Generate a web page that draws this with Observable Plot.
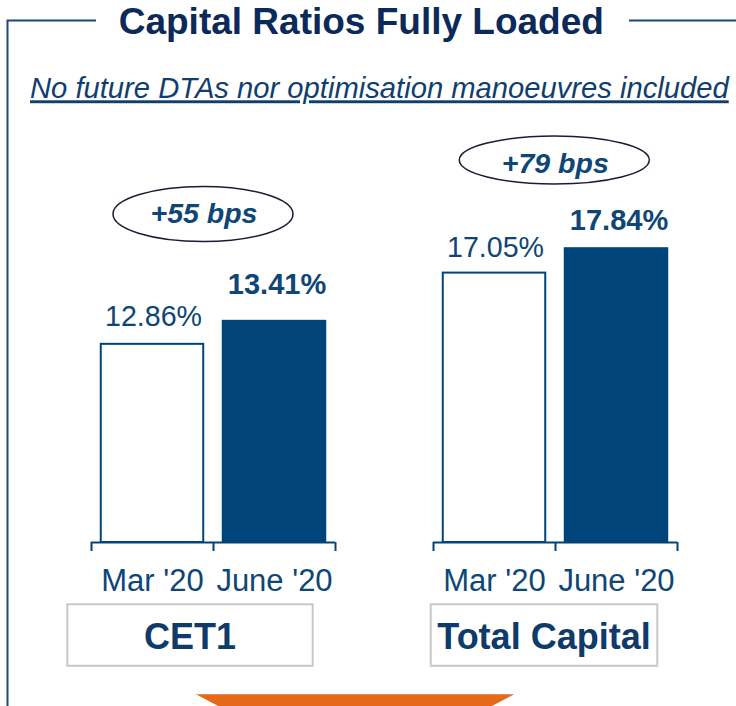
<!DOCTYPE html>
<html><head><meta charset="utf-8">
<script src="https://cdn.jsdelivr.net/npm/d3@7"></script>
<script src="https://cdn.jsdelivr.net/npm/@observablehq/plot@0.6"></script>
<style>
html,body{margin:0;padding:0;background:#fff;}
#page{position:relative;width:736px;height:706px;overflow:hidden;font-family:"Liberation Sans",Arial,sans-serif;}
#page > svg{position:absolute;}
</style></head><body><div id="page"></div>
<script>
// ---- data ----
const categories = ["Mar '20", "June '20"];
const cet1Values = [12.86, 13.41];
const totalCapitalValues = [17.05, 17.84];
const panelNames = ["CET1", "Total Capital"];
const titleText = "Capital Ratios Fully Loaded";
const subtitleText = "No future DTAs nor optimisation manoeuvres included";

// ---- style ----
const NAVY = "#00447a";
const LABEL = "#0d4677";
const TITLE = "#0b2a5a";
const FONT = "Liberation Sans, Arial, sans-serif";
const page = document.getElementById("page");

function panel(values, cfg) {
  const data = categories.map((c, i) => ({cat: c, i, v: values[i]}));
  const y0 = cfg.domain[0];
  const svg = Plot.plot({
    width: 300, height: 520,
    marginLeft: 32, marginRight: 24, marginTop: 100, marginBottom: 78,
    x: {domain: [0, categories.length], axis: null},
    y: {domain: cfg.domain, axis: null},
    style: {background: "none", overflow: "visible", fontFamily: FONT},
    marks: [
      Plot.rectY(data, {filter: d => d.i === 0, x1: d => d.i + 0.08, x2: d => d.i + 0.92, y1: y0, y2: "v", fill: "white", stroke: NAVY, strokeWidth: 2}),
      Plot.rectY(data, {filter: d => d.i === 1, x1: d => d.i + 0.08, x2: d => d.i + 0.92, y1: y0, y2: "v", fill: NAVY, stroke: NAVY, strokeWidth: 2}),
      Plot.ruleY([y0], {stroke: NAVY, strokeWidth: 2}),
      Plot.ruleX(d3.range(categories.length + 1), {y1: y0, y2: y0, insetBottom: -9, stroke: NAVY, strokeWidth: 2}),
      Plot.text(data, {filter: d => d.i === 0, x: d => d.i + 0.5, y: "v", text: d => d.v.toFixed(2) + "%", lineAnchor: "bottom", dy: -cfg.dy[0], dx: 1, fontSize: 28.6, fill: LABEL}),
      Plot.text(data, {filter: d => d.i === 1, x: d => d.i + 0.5, y: "v", text: d => d.v.toFixed(2) + "%", lineAnchor: "bottom", dy: -cfg.dy[1], dx: 2.5, fontSize: 29, fontWeight: "bold", fill: LABEL}),
      Plot.text(data, {x: d => d.i + 0.5, y: y0, text: "cat", lineAnchor: "bottom", dy: 48, fontSize: 31, fill: LABEL})
    ]
  });
  svg.style.left = cfg.left + "px";
  svg.style.top = "100px";
  page.appendChild(svg);
}

panel(cet1Values, {left: 59, domain: [8.12, 16.30], dy: [18, 27]});
panel(totalCapitalValues, {left: 400.5, domain: [8.33, 19.40], dy: [16, 19]});

// ---- decoration ----
const deco = d3.select(page).append("svg")
  .attr("width", 736).attr("height", 706)
  .style("left", "0px").style("top", "0px")
  .style("font-family", FONT);

// frame lines
deco.append("path").attr("d", "M7.5,720 V20.5 H96").attr("fill", "none").attr("stroke", "#1f4775").attr("stroke-width", 2);
deco.append("path").attr("d", "M629,20.5 H740").attr("fill", "none").attr("stroke", "#1f4775").attr("stroke-width", 2);

deco.append("text").attr("x", 361.3).attr("y", 34.3).attr("text-anchor", "middle")
  .attr("font-size", 37).attr("font-weight", "bold").attr("fill", TITLE).text(titleText);

deco.append("text").attr("x", 30).attr("y", 98.3)
  .attr("font-size", 29.2).attr("font-style", "italic").attr("fill", "#103e6d")
  .style("text-decoration", "underline").text(subtitleText);

// bps ellipses
const bps = [cet1Values, totalCapitalValues].map(v => Math.round((v[1] - v[0]) * 100));
const ell = [{cx: 203, cy: 214, rx: 90, ry: 27.5, ty: 223}, {cx: 554.3, cy: 160, rx: 95, ry: 24, ty: 172.7}];
ell.forEach((e, k) => {
  deco.append("ellipse").attr("cx", e.cx).attr("cy", e.cy).attr("rx", e.rx).attr("ry", e.ry)
    .attr("fill", "white").attr("stroke", "#1a1d33").attr("stroke-width", 1.5);
  deco.append("text").attr("x", e.cx + 1).attr("y", e.ty).attr("text-anchor", "middle")
    .attr("font-size", 28.5).attr("font-weight", "bold").attr("font-style", "italic")
    .attr("fill", "#0d4677").text("+" + bps[k] + " bps");
});

// panel name boxes
const boxes = [{x: 67.3, w: 245.4}, {x: 430.7, w: 226.6}];
boxes.forEach((b, k) => {
  deco.append("rect").attr("x", b.x).attr("y", 604.3).attr("width", b.w).attr("height", 61.5)
    .attr("fill", "white").attr("stroke", "#c8c8c8").attr("stroke-width", 2);
  deco.append("text").attr("x", b.x + b.w / 2).attr("y", 649).attr("text-anchor", "middle")
    .attr("font-size", 36).attr("font-weight", "bold").attr("fill", "#0e3b69").text(panelNames[k]);
});

// orange arrow top
deco.append("polygon").attr("points", "196,694.3 514.3,694.3 490,707 220,707").attr("fill", "#e4691a");
</script></body></html>
